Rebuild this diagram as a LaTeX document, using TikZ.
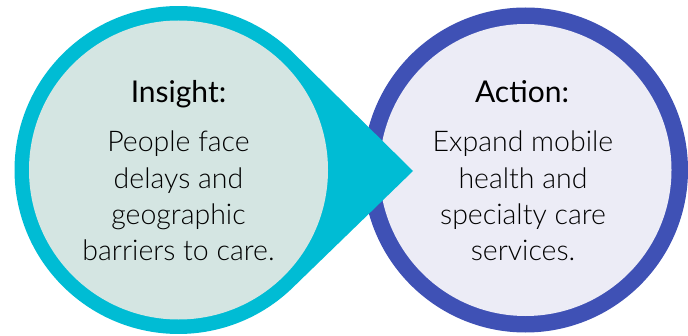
\documentclass[tikz,border=0pt]{standalone}
\usepackage{fontspec}
\setmainfont{Lato}
\newfontfamily\lightfont{Lato Light}
\usetikzlibrary{calc}

\definecolor{insightteal}{HTML}{00BCD4}
\definecolor{insightfill}{HTML}{D4E5E2}
\definecolor{actionblue}{HTML}{3F51B5}
\definecolor{actionfill}{HTML}{ECECF6}

\tikzset{
  heading/.style={anchor=base,inner sep=0pt,font=\fontsize{30}{34}\selectfont},
  bodytext/.style={anchor=base,inner sep=0pt,align=center,font=\lightfont\fontsize{28.5}{36.3}\selectfont}
}

\begin{document}
\begin{tikzpicture}[x=1pt,y=1pt]
\useasboundingbox (0,0) rectangle (688,335);

% right disc first, the teal pointer lies over its rim
\begin{scope}
\coordinate (rc) at (525.5,165);
\fill[actionblue] (rc) circle (162.5);
\fill[actionfill] (rc) circle (146);
\node[heading] (action) at (522,232.7) {Action:};
\node[bodytext] (actiontext) at (523,74.3) {Expand mobile\\health and\\specialty care\\services.};
\end{scope}

\begin{scope}
\coordinate (lc) at (178.5,165);
\coordinate (tip) at (413,164);
\fill[insightteal] (tip) -- ($(lc)+(45.7:164)$) arc[start angle=45.7,end angle=314.3,radius=164] -- cycle;
\fill[insightfill] (lc) circle (149.5);
\node[heading] (insight) at (178.5,232.7) {Insight:};
\node[bodytext] (insighttext) at (178.5,74.3) {People face\\delays and\\geographic\\barriers to care.};
\end{scope}

\end{tikzpicture}
\end{document}
